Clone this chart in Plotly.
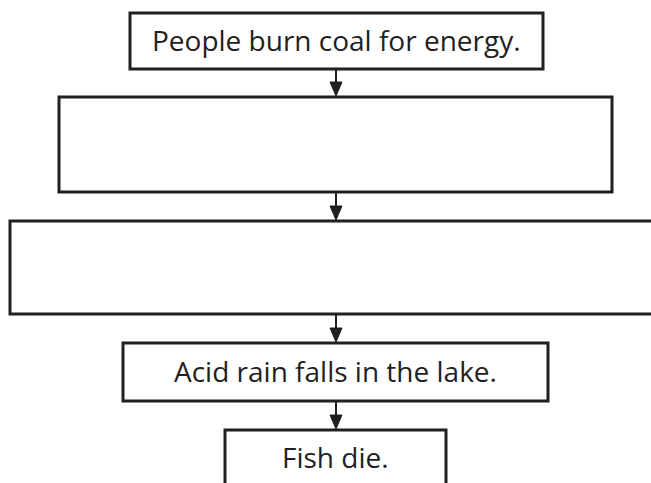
import plotly.graph_objects as go

# Flowchart content
step_texts = [
    "People burn coal for energy.",
    "",
    "",
    "Acid rain falls in the lake.",
    "Fish die.",
]

# Layout geometry (pixels, y downward)
W, H = 651, 483
box_x0 = [130, 59, 10, 123, 225]
box_x1 = [543, 612, 700, 548, 446]
box_y0 = [13, 97, 221, 343, 430]
box_y1 = [69, 192, 314, 401, 520]
text_y = [40, 0, 0, 371, 457]
arrow_x = 336
ink = "#231f20"

fig = go.Figure()
shapes = []
annotations = []
for i, t in enumerate(step_texts):
    shapes.append(dict(type="rect", xref="x", yref="y",
                       x0=box_x0[i], x1=box_x1[i], y0=box_y0[i], y1=box_y1[i],
                       line=dict(color=ink, width=3), fillcolor="rgba(0,0,0,0)"))
    if t:
        annotations.append(dict(x=(box_x0[i] + box_x1[i]) / 2,
                                y=text_y[i], xref="x", yref="y", text=t, showarrow=False,
                                font=dict(family="Open Sans", size=28, color=ink),
                                xanchor="center", yanchor="middle"))
    if i < len(step_texts) - 1:
        top = box_y1[i] + 1
        tip = box_y0[i + 1] - 1
        head = 14
        shapes.append(dict(type="line", xref="x", yref="y",
                           x0=arrow_x, x1=arrow_x, y0=top, y1=tip - head + 1,
                           line=dict(color=ink, width=2)))
        shapes.append(dict(type="path", xref="x", yref="y",
                           path=f"M {arrow_x-6} {tip-head} L {arrow_x+6} {tip-head} L {arrow_x} {tip} Z",
                           fillcolor=ink, line=dict(color=ink, width=1)))

fig.add_trace(go.Scatter(x=[0, W], y=[0, H], mode="markers",
                         marker=dict(opacity=0), hoverinfo="skip", showlegend=False))
fig.update_layout(
    width=W, height=H, margin=dict(l=0, r=0, t=0, b=0),
    paper_bgcolor="white", plot_bgcolor="white",
    xaxis=dict(range=[0, W], visible=False, fixedrange=True),
    yaxis=dict(range=[H, 0], visible=False, fixedrange=True),
    shapes=shapes, annotations=annotations,
)
fig.write_html("out.html", config={"displayModeBar": False},
               post_script="document.body.style.margin='0';document.body.style.overflow='hidden';")
